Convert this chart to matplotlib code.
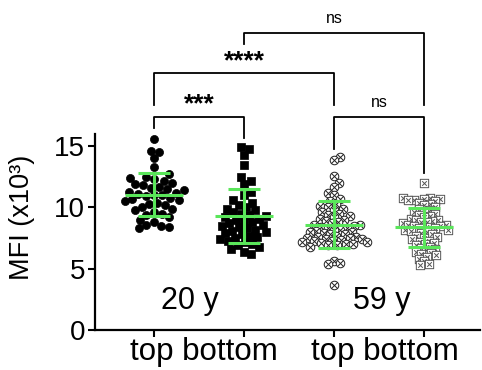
import numpy as np
import matplotlib.pyplot as plt
from matplotlib.path import Path

plt.rcParams['font.family'] = ['Liberation Sans', 'DejaVu Sans']

# --- data (MFI x10^3) ---
tick_labels = ['top', 'bottom', 'top', 'bottom']
age_labels = ['20 y', '59 y']

young_top = [15.6, 14.6, 14.5, 14.0, 13.3, 12.7, 12.5, 12.4, 12.3, 12.2, 12.0,
             11.9, 11.8, 11.7, 11.6, 11.5, 11.4, 11.3, 11.2, 11.1, 11.0, 11.0,
             10.9, 10.8, 10.7, 10.6, 10.5, 10.4, 10.3, 10.2, 10.0, 9.9, 9.8,
             9.6, 9.5, 9.4, 9.2, 9.0, 8.8, 8.6, 8.5, 8.4, 8.3]
young_bottom = [14.9, 14.8, 14.3, 13.5, 12.5, 12.2, 11.9, 11.3, 11.0, 10.6,
                10.4, 10.2, 10.0, 9.9, 9.8, 9.6, 9.5, 9.4, 9.3, 9.2, 9.1, 9.0,
                8.9, 8.8, 8.7, 8.6, 8.5, 8.4, 8.3, 8.2, 8.1, 8.0, 7.9, 7.8,
                7.7, 7.6, 7.5, 7.4, 7.3, 7.2, 7.0, 6.9, 6.8, 6.6, 6.4, 6.2]
old_top = [14.1, 13.9, 12.6, 12.0, 11.7, 11.2, 11.0,
           10.7, 10.5, 10.3, 10.1, 10.0, 9.9, 9.8, 9.6, 9.5, 9.4, 9.3, 9.2,
           9.1, 9.0, 8.9, 8.8, 8.7, 8.6, 8.6, 8.5, 8.4, 8.3, 8.3, 8.2, 8.2,
           8.1, 8.0, 8.0, 7.9, 7.8, 7.8, 7.7, 7.6, 7.6, 7.55, 7.5, 7.45, 7.4,
           7.35, 7.3, 7.25, 7.2, 7.15, 7.1, 7.05, 7.0, 6.95, 6.9, 6.8,
           5.6, 5.5, 5.4, 3.7]
old_bottom = [12.0, 10.8, 10.8, 10.7, 10.7, 10.6, 10.6, 10.5, 10.4, 10.3,
              10.2, 10.0, 9.9, 9.8, 9.7, 9.6, 9.5, 9.4, 9.3, 9.2, 9.1, 9.0,
              9.0, 8.9, 8.8, 8.8, 8.7, 8.6, 8.6, 8.5, 8.5, 8.4, 8.4, 8.3,
              8.3, 8.2, 8.2, 8.1, 8.0, 7.9, 7.8, 7.7, 7.6, 7.5, 7.4, 7.3,
              7.2, 7.1, 7.0, 6.9, 6.8, 6.7, 6.6, 6.5, 6.4, 6.3, 6.2, 6.1,
              6.0, 5.8, 5.6, 5.4, 5.3]
groups = [young_top, young_bottom, old_top, old_bottom]

# significance comparisons (group index pairs) and labels
sig_pairs = [(0, 1), (0, 2), (2, 3), (1, 3)]
sig_labels = ['***', '****', 'ns', 'ns']

positions = [1, 2, 3, 4]

# marker shapes
circle_x = Path.make_compound_path(
    Path.unit_circle(),
    Path([(-0.62, -0.62), (0.62, 0.62)], [Path.MOVETO, Path.LINETO]),
    Path([(-0.62, 0.62), (0.62, -0.62)], [Path.MOVETO, Path.LINETO]))
square_x = Path.make_compound_path(
    Path([(-1, -1), (1, -1), (1, 1), (-1, 1), (-1, -1)],
         [Path.MOVETO, Path.LINETO, Path.LINETO, Path.LINETO, Path.CLOSEPOLY]),
    Path([(-0.55, -0.55), (0.55, 0.55)], [Path.MOVETO, Path.LINETO]),
    Path([(-0.55, 0.55), (0.55, -0.55)], [Path.MOVETO, Path.LINETO]))

styles = [
    dict(marker='o', facecolor='black', edgecolor='black', linewidths=0.5, s=34),
    dict(marker='s', facecolor='black', edgecolor='black', linewidths=0.5, s=32),
    dict(marker=circle_x, facecolor='white', edgecolor='#222222', linewidths=0.7, s=38),
    dict(marker=square_x, facecolor='white', edgecolor='#555555', linewidths=0.7, s=36),
]
swarm_gap = [8.0, 7.8, 6.4, 5.6]   # point spacing in pixels


def swarm_offsets(ax, x0, values, d_px):
    trans = ax.transData
    ypx = trans.transform(np.column_stack([np.full(len(values), x0), values]))[:, 1]
    xscale = trans.transform((x0 + 1, 0))[0] - trans.transform((x0, 0))[0]
    order = np.argsort(np.abs(ypx - np.median(ypx)))
    placed = []
    offs = np.zeros(len(values))
    for i in order:
        y = ypx[i]
        near = [(px, py) for px, py in placed if abs(py - y) < d_px]
        side = sum(np.sign(px) for px, py in near)
        cands = [0.0]
        for px, py in near:
            dx = np.sqrt(d_px ** 2 - (py - y) ** 2)
            cands += [px + dx, px - dx]
        # nearest to centre first, then prefer the emptier side
        cands.sort(key=lambda c: (round(abs(c), 3), np.sign(c) * side))
        for c in cands:
            if all((c - px) ** 2 + (py - y) ** 2 >= d_px ** 2 - 1e-6 for px, py in near):
                break
        placed.append((c, y))
        offs[i] = c / xscale
    return offs


fig = plt.figure(figsize=(4.82, 3.70), dpi=100)
ax = fig.add_axes([0.197, 0.108, 0.799, 0.530])
ax.set_xlim(0.344, 4.622)
ax.set_ylim(0, 16)

green = '#5AE65A'
for p, vals, st, gap in zip(positions, groups, styles, swarm_gap):
    vals = np.array(vals)
    offs = swarm_offsets(ax, p, vals, gap)
    ax.scatter(p + offs, vals, zorder=3, clip_on=False, **st)
    m, sd = vals.mean(), vals.std(ddof=1)
    ax.plot([p - 0.32, p + 0.32], [m, m], color=green, lw=2.2, zorder=5, solid_capstyle='butt')
    ax.plot([p - 0.18, p + 0.18], [m + sd, m + sd], color=green, lw=2.2, zorder=5, solid_capstyle='butt')
    ax.plot([p - 0.18, p + 0.18], [m - sd, m - sd], color=green, lw=2.2, zorder=5, solid_capstyle='butt')
    ax.plot([p, p], [m - sd, m + sd], color=green, lw=2.2, zorder=5)

# brackets: (y of bar, bottom of left leg, bottom of right leg, text y)
bracket_geom = [(17.4, 16.5, 15.7, 18.4),
                (21.0, 18.4, 18.4, 21.9),
                (17.4, 14.8, 12.8, 18.6),
                (24.2, 23.3, 18.4, 25.4)]
for (a, b), lab, (yb, yl, yr, ty) in zip(sig_pairs, sig_labels, bracket_geom):
    xa, xb = positions[a], positions[b]
    ax.plot([xa, xa, xb, xb], [yl, yb, yb, yr], color='black', lw=1.3, clip_on=False)
    if lab == 'ns':
        ax.text((xa + xb) / 2, ty, lab, ha='center', va='center', fontsize=11.5)
    else:
        ax.text((xa + xb) / 2, ty, lab, ha='center', va='center', fontsize=19,
                fontweight='bold')

for x, lab in zip([1.40, 3.53], age_labels):
    ax.text(x, 2.4, lab, ha='center', va='center', fontsize=22)

# category labels sit as one line under each pair of ticks
ax.set_xticks(positions)
ax.set_xticklabels([])
for k, x in enumerate([1.555, 3.56]):
    ax.text(x, -2.45, ' '.join(tick_labels[2 * k:2 * k + 2]), ha='center',
            va='baseline', fontsize=22.5, clip_on=False)

ax.set_yticks([0, 5, 10, 15])
ax.spines['top'].set_visible(False)
ax.spines['right'].set_visible(False)
ax.spines['left'].set_linewidth(1.6)
ax.spines['bottom'].set_linewidth(1.6)
ax.tick_params(direction='out', length=5, width=1.5, labelsize=20, pad=2)

fig.text(0.045, 0.412, 'MFI (x10³)', rotation=90, ha='center', va='center', fontsize=19.5)

plt.savefig('out.png', dpi=100)
